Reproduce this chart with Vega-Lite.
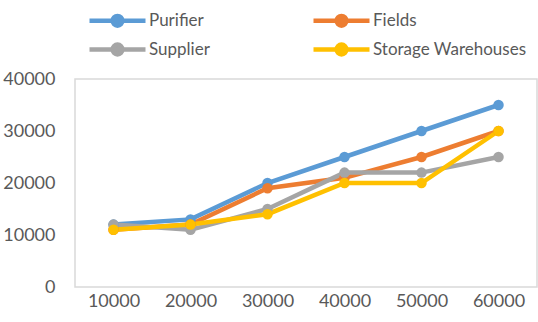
{
  "$schema": "https://vega.github.io/schema/vega-lite/v6.json",
  "width": 462,
  "height": 208,
  "autosize": {"type": "none"},
  "padding": {"left": 75, "top": 79, "right": 1, "bottom": 35},
  "background": "white",
  "config": {
    "view": {"stroke": "#d9d9d9", "strokeWidth": 1.5},
    "font": "Lato"
  },
  "data": {
    "values": [
      {"x": 10000, "series": "Purifier", "y": 12000},
      {"x": 20000, "series": "Purifier", "y": 13000},
      {"x": 30000, "series": "Purifier", "y": 20000},
      {"x": 40000, "series": "Purifier", "y": 25000},
      {"x": 50000, "series": "Purifier", "y": 30000},
      {"x": 60000, "series": "Purifier", "y": 35000},
      {"x": 10000, "series": "Fields", "y": 11000},
      {"x": 20000, "series": "Fields", "y": 12000},
      {"x": 30000, "series": "Fields", "y": 19000},
      {"x": 40000, "series": "Fields", "y": 21000},
      {"x": 50000, "series": "Fields", "y": 25000},
      {"x": 60000, "series": "Fields", "y": 30000},
      {"x": 10000, "series": "Supplier", "y": 12000},
      {"x": 20000, "series": "Supplier", "y": 11000},
      {"x": 30000, "series": "Supplier", "y": 15000},
      {"x": 40000, "series": "Supplier", "y": 22000},
      {"x": 50000, "series": "Supplier", "y": 22000},
      {"x": 60000, "series": "Supplier", "y": 25000},
      {"x": 10000, "series": "Storage Warehouses", "y": 11000},
      {"x": 20000, "series": "Storage Warehouses", "y": 12000},
      {"x": 30000, "series": "Storage Warehouses", "y": 14000},
      {"x": 40000, "series": "Storage Warehouses", "y": 20000},
      {"x": 50000, "series": "Storage Warehouses", "y": 20000},
      {"x": 60000, "series": "Storage Warehouses", "y": 30000}
    ]
  },
  "mark": {
    "type": "line",
    "strokeWidth": 4.5,
    "point": {"filled": true, "size": 110}
  },
  "encoding": {
    "x": {
      "field": "x",
      "type": "ordinal",
      "scale": {"type": "point", "padding": 0.5},
      "axis": {
        "title": null,
        "labelAngle": 0,
        "domain": false,
        "ticks": false,
        "labelPadding": 5,
        "labelFontSize": 18,
        "labelColor": "#595959"
      }
    },
    "y": {
      "field": "y",
      "type": "quantitative",
      "scale": {"domain": [0, 40000], "nice": false},
      "axis": {
        "title": null,
        "values": [0, 10000, 20000, 30000, 40000],
        "format": "d",
        "grid": false,
        "domain": false,
        "ticks": false,
        "labelPadding": 20,
        "labelFontSize": 18,
        "labelColor": "#595959"
      }
    },
    "color": {
      "field": "series",
      "type": "nominal",
      "sort": ["Purifier", "Fields", "Supplier", "Storage Warehouses"],
      "scale": {
        "domain": ["Purifier", "Fields", "Supplier", "Storage Warehouses"],
        "range": ["#5B9BD5", "#ED7D31", "#A5A5A5", "#FFC000"]
      },
      "legend": {
        "title": null,
        "orient": "none",
        "legendX": 12,
        "legendY": -68,
        "direction": "horizontal",
        "columns": 2,
        "columnPadding": 94,
        "rowPadding": 0,
        "symbolType": "M-1,0H7M2.3,0A0.7,0.7 0 1,1 3.7,0A0.7,0.7 0 1,1 2.3,0Z",
        "symbolSize": 196,
        "symbolStrokeWidth": 4.5,
        "labelFontSize": 17,
        "labelColor": "#595959",
        "labelOffset": 43,
        "encode": {
          "symbols": {
            "update": {
              "fill": {"scale": "color", "field": "value"},
              "stroke": {"scale": "color", "field": "value"},
              "strokeWidth": {"value": 4.5},
              "opacity": {"value": 1}
            }
          }
        }
      }
    }
  }
}
